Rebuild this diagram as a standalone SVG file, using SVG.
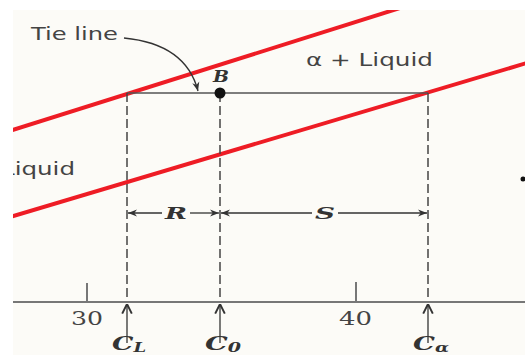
<svg xmlns="http://www.w3.org/2000/svg" width="525" height="355" viewBox="0 0 525 355">
<defs>
<style>
.red{stroke:#ee1c25;stroke-width:4;fill:none}
.tie{stroke:#555;stroke-width:1.5;fill:none}
.dash{stroke:#444;stroke-width:1.5;stroke-dasharray:9 4;fill:none}
.axis{stroke:#777;stroke-width:2;fill:none}
.thin{stroke:#333;stroke-width:1.3;fill:none}
.lbl{font-family:"DejaVu Sans","Liberation Sans",sans-serif;font-size:18px;fill:#444}
.num{font-family:"DejaVu Serif","Liberation Serif",serif;font-size:18px;fill:#444}
.it{font-family:"DejaVu Serif","Liberation Serif",serif;font-style:italic;font-weight:bold;fill:#333}
</style>
<marker id="ah" viewBox="0 0 10 10" refX="10" refY="5" markerWidth="9" markerHeight="9" markerUnits="userSpaceOnUse" orient="auto">
<path d="M0,1 L10,5 L0,9 L3,5 Z" fill="#333"/>
</marker>
<marker id="chev" viewBox="0 0 10 10" refX="10" refY="5" markerWidth="12" markerHeight="12" markerUnits="userSpaceOnUse" orient="auto">
<path d="M2,1 L10,5 L2,9" fill="none" stroke="#333" stroke-width="1.6"/>
</marker>
<clipPath id="area"><rect x="13" y="10" width="512" height="345"/></clipPath>
</defs>
<rect width="525" height="355" fill="#ffffff"/>
<rect x="13" y="10" width="512" height="345" fill="#fcfbf7"/>
<g clip-path="url(#area)">
<g id="phase-boundaries">
<line class="red" x1="0" y1="134" x2="400" y2="8"/>
<line class="red" x1="0" y1="220" x2="530" y2="62"/>
</g>
<g id="labels">
<text class="lbl" x="31" y="40" textLength="87" lengthAdjust="spacingAndGlyphs">Tie line</text>
<text class="lbl" x="306" y="66" textLength="127" lengthAdjust="spacingAndGlyphs">α + Liquid</text>
<text class="lbl" x="1" y="175" textLength="74" lengthAdjust="spacingAndGlyphs">Liquid</text>
</g>
<g id="connectors">
<line class="tie" x1="127" y1="93" x2="428" y2="93"/>
<path class="thin" d="M124,38 Q186,44 198,91" marker-end="url(#ah)"/>
<line class="dash" x1="127" y1="93" x2="127" y2="302"/>
<line class="dash" x1="220" y1="93" x2="220" y2="302"/>
<line class="dash" x1="428" y1="93" x2="428" y2="302"/>
<line class="thin" x1="162" y1="213" x2="128" y2="213" marker-end="url(#ah)"/>
<line class="thin" x1="190" y1="213" x2="219" y2="213" marker-end="url(#ah)"/>
<line class="thin" x1="312" y1="213" x2="221" y2="213" marker-end="url(#ah)"/>
<line class="thin" x1="338" y1="213" x2="427" y2="213" marker-end="url(#ah)"/>
<line class="thin" x1="127" y1="343" x2="127" y2="304" marker-end="url(#chev)"/>
<line class="thin" x1="220" y1="343" x2="220" y2="304" marker-end="url(#chev)"/>
<line class="thin" x1="428" y1="343" x2="428" y2="304" marker-end="url(#chev)"/>
</g>
<g id="axis">
<line class="axis" x1="13" y1="302" x2="525" y2="302"/>
<line class="axis" x1="87" y1="283" x2="87" y2="302" stroke-width="1.5"/>
<line class="axis" x1="356" y1="282" x2="356" y2="302" stroke-width="1.5"/>
<text class="num" x="71" y="325" textLength="32" lengthAdjust="spacingAndGlyphs">30</text>
<text class="num" x="339" y="325" textLength="33" lengthAdjust="spacingAndGlyphs">40</text>
</g>
<g id="point-B">
<circle cx="220" cy="93" r="5.5" fill="#111"/>
<text class="it" x="213" y="82" font-size="17" textLength="16" lengthAdjust="spacingAndGlyphs">B</text>
</g>
<g id="dims">
<text class="it" x="165" y="219" font-size="17" textLength="22" lengthAdjust="spacingAndGlyphs">R</text>
<text class="it" x="315" y="219" font-size="17" textLength="20" lengthAdjust="spacingAndGlyphs">S</text>
</g>
<g id="compositions">
<text class="it" x="112" y="350" font-size="18" textLength="34" lengthAdjust="spacingAndGlyphs">C<tspan font-size="12" dy="2">L</tspan></text>
<text class="it" x="205" y="350" font-size="18" textLength="36" lengthAdjust="spacingAndGlyphs">C<tspan font-size="12" dy="2">0</tspan></text>
<text class="it" x="413" y="350" font-size="18" textLength="36" lengthAdjust="spacingAndGlyphs">C<tspan font-size="12" dy="2">α</tspan></text>
</g>
<circle cx="523" cy="179" r="2.5" fill="#111"/>
</g>
</svg>
